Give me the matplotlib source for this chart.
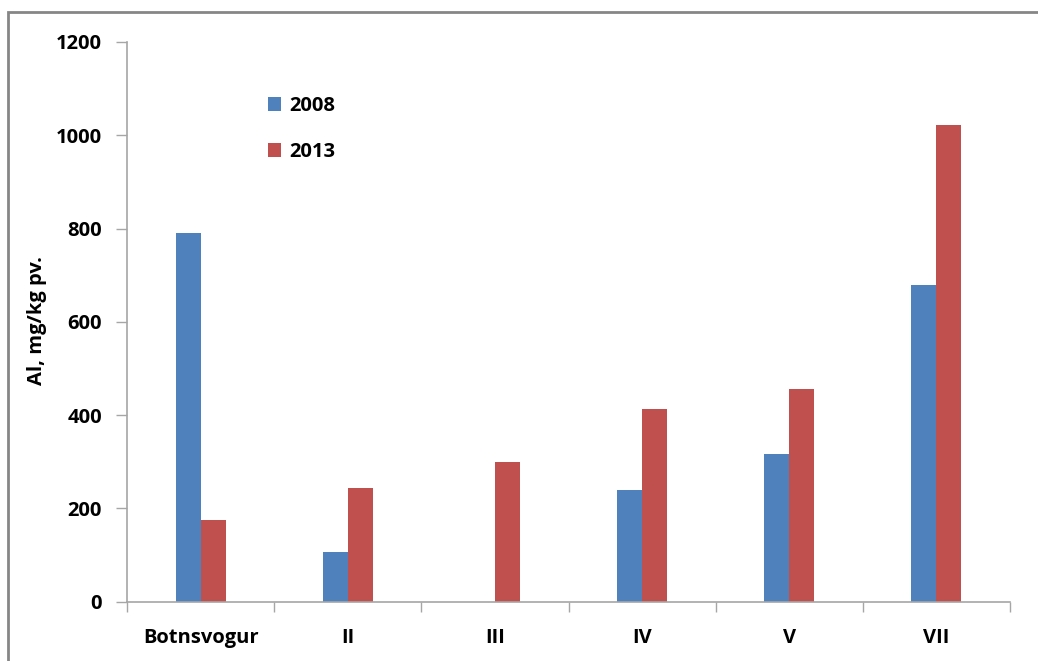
import matplotlib
matplotlib.use("Agg")
import matplotlib.pyplot as plt
from matplotlib.patches import Rectangle
import numpy as np

categories = ["Botnsvogur", "II", "III", "IV", "V", "VII"]
al_2008 = [790, 106, 0, 239, 316, 680]
al_2013 = [175, 243, 300, 413, 456, 1023]

plt.rcParams['font.family'] = ['Open Sans', 'DejaVu Sans']
plt.rcParams['font.weight'] = 'bold'
fs = 14.5

fig = plt.figure(figsize=(10.38, 6.61), dpi=100)
ax = fig.add_axes([127 / 1038, 1 - 601.7 / 661, (1010 - 127) / 1038, (601.7 - 42) / 661])

x = np.arange(len(categories))
w = 0.17
ax.bar(x - w / 2, al_2008, width=w, color="#4F81BD", label="2008")
ax.bar(x + w / 2, al_2013, width=w, color="#C0504D", label="2013")

ax.set_xlim(-0.5, len(categories) - 0.5)
ax.set_ylim(0, 1200)
ax.set_yticks(range(0, 1201, 200))
ax.set_xticks(x)
ax.set_xticklabels(categories)
ax.set_xticks(np.arange(-0.5, len(categories), 1), minor=True)

for s in ["top", "right"]:
    ax.spines[s].set_visible(False)
for s in ["left", "bottom"]:
    ax.spines[s].set_color("#A6A6A6")
    ax.spines[s].set_linewidth(1.2)

ax.tick_params(axis="y", direction="out", length=8, width=1, color="#A6A6A6",
               labelsize=fs, pad=10)
ax.tick_params(axis="x", which="major", length=0, labelsize=fs, pad=19)
ax.tick_params(axis="x", which="minor", direction="out", length=7, width=1, color="#A6A6A6")

fig.text(37 / 1038, 1 - 321 / 661, "Al, mg/kg pv.", rotation=90, ha="center", va="center",
         fontsize=fs, fontweight="bold")

ax.legend(loc="upper left", bbox_to_anchor=(268 / 1038, 1 - 96 / 661),
          bbox_transform=fig.transFigure, frameon=False, fontsize=fs,
          handlelength=0.65, handleheight=0.65, handletextpad=0.4,
          labelspacing=1.3, borderpad=0, borderaxespad=0)

# outer frame of the chart area
fig.patches.append(Rectangle((8 / 1038, -0.1), 1.2, 1 - 12 / 661 + 0.1,
                             transform=fig.transFigure, fill=False,
                             edgecolor="#868686", linewidth=2))

fig.savefig("out.png", dpi=100)
